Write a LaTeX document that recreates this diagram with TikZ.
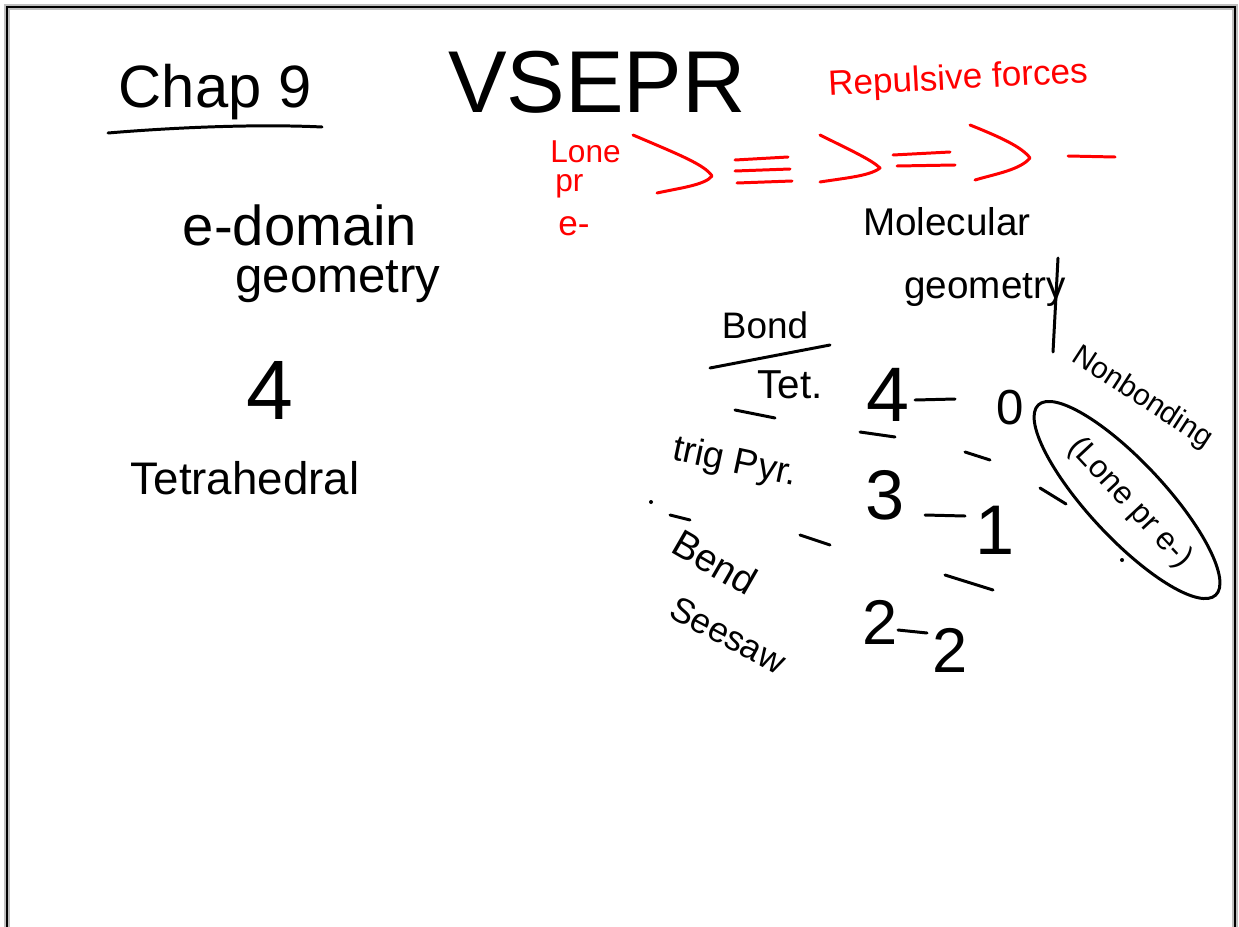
\documentclass[tikz,border=0pt]{standalone}
\usepackage{fontspec}
\setmainfont{Liberation Sans}
\begin{document}
\begin{tikzpicture}[x=0.02cm,y=-0.02cm,
  hw/.style={font=\fontsize{#1}{#1}\selectfont, inner sep=0pt},
  ink/.style={line width=1.7pt, line cap=round, line join=round},
  redink/.style={ink, red},
  redtext/.style={text=red}]
\useasboundingbox (0,0) rectangle (1239,926);
\fill[white] (0,0) rectangle (1239,926);
% frame
\draw[gray!50, line width=3pt] (7,940) -- (7,7) -- (1235,7) -- (1235,940);
\draw[black, line width=1.2pt] (7,940) -- (7,7) -- (1235,7) -- (1235,940);

% title
\node[hw=34] (chap) at (215,92) {Chap 9};
\draw[ink] (108,133) .. controls (180,127) and (260,124) .. (322,127);
\node[hw=50] (vsepr) at (597,82) {VSEPR};
\node[hw=20, redtext, rotate=3] (rep) at (958,80) {Repulsive forces};

% red ordering
\node[hw=18, redtext, anchor=west] (lone) at (550,152) {Lone};
\node[hw=18, redtext, anchor=west] (pr) at (555,186) {pr};
\node[hw=20, redtext, anchor=west] (em) at (558,226) {e-};
\draw[redink] (633,135) .. controls (680,155) and (705,165) .. (712,176) .. controls (705,185) and (680,188) .. (657,193);
\draw[redink] (735,160) -- (788,157);
\draw[redink] (735,171) -- (790,169);
\draw[redink] (737,183) -- (792,181);
\draw[redink] (820,135) .. controls (850,150) and (872,160) .. (880,168) .. controls (870,176) and (845,178) .. (820,182);
\draw[redink] (893,155) -- (950,152);
\draw[redink] (897,166) -- (955,165);
\draw[redink] (970,125) .. controls (1000,137) and (1022,147) .. (1030,158) .. controls (1020,170) and (995,174) .. (975,180);
\draw[redink] (1068,156) -- (1115,157);

% left column
\node[hw=32] (edom) at (300,225) {e-domain};
\node[hw=28] (egeo) at (338,282) {geometry};
\node[hw=48] (four) at (270,390) {4};
\node[hw=26] (tetra) at (245,478) {Tetrahedral};

% right column
\node[hw=22] (mol) at (947,222) {Molecular};
\node[hw=22] (mgeo) at (985,290) {geometry};
\draw[ink] (1058,258) -- (1053,352);
\node[hw=21] (bond) at (765,325) {Bond};
\draw[ink] (710,368) -- (830,345);
\node[hw=23] (tet) at (790,385) {Tet.};
\node[hw=21, rotate=-12] (trig) at (735,463) {trig Pyr.};
\node[hw=22, rotate=-30] (bend) at (715,562) {Bend};
\node[hw=20, rotate=-28] (seesaw) at (728,635) {Seesaw};

% counts
\node[hw=44] (n4) at (888,395) {4};
\draw[ink] (915,400) -- (955,399);
\node[hw=28] (n0) at (1010,408) {0};
\node[hw=40] (n3) at (885,495) {3};
\draw[ink] (925,515) -- (965,516);
\node[hw=40] (n1) at (995,530) {1};
\node[hw=36] (n2a) at (880,622) {2};
\draw[ink] (898,630) -- (927,633);
\node[hw=36] (n2b) at (950,650) {2};

% separators
\draw[ink] (735,410) -- (775,418);
\draw[ink] (860,432) -- (895,437);
\draw[ink] (965,452) -- (990,460);
\draw[ink] (1040,488) -- (1066,504);
\fill (651,502) circle (2);
\draw[ink] (670,515) -- (690,520);
\draw[ink] (800,535) -- (830,545);
\draw[ink] (945,575) -- (993,590);
\fill (1122,560) circle (2);

% nonbonding
\node[hw=17, rotate=-33] (nonb) at (1142,398) {Nonbonding};
\node[hw=18, rotate=-47] (lp) at (1130,503) {(Lone pr e-)};
\draw[ink, rotate around={-47:(1127,500)}] (1127,500) ellipse (130 and 38);
\end{tikzpicture}
\end{document}
